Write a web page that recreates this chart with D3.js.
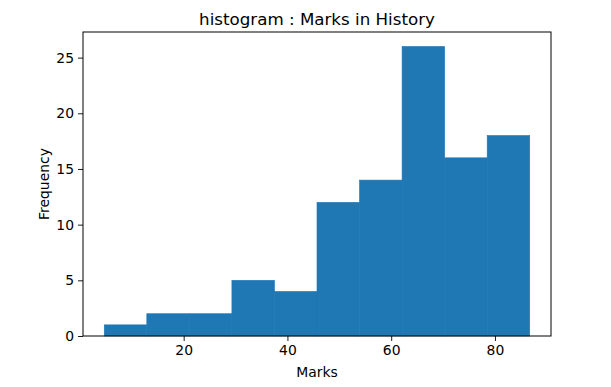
<!DOCTYPE html>
<html><head><meta charset="utf-8">
<script src="https://cdn.jsdelivr.net/npm/d3@7"></script>
<style>body{margin:0;background:#fff}svg{display:block}text{font-family:"DejaVu Sans",sans-serif;fill:#000}</style>
</head><body>
<script>
const binStart = 4.7;
const binWidth = 8.2;
const frequencies = [1, 2, 2, 5, 4, 12, 14, 26, 16, 18];
const xTicks = [20, 40, 60, 80];
const yTicks = [0, 5, 10, 15, 20, 25];
const title = "histogram : Marks in History";
const xLabel = "Marks";
const yLabel = "Frequency";

const W = 611, H = 387;
const m = {left: 83, right: 551, top: 32, bottom: 336};
const bins = frequencies.map((f, i) => ({x0: binStart + i*binWidth, x1: binStart + (i+1)*binWidth, n: f}));
const dMin = bins[0].x0, dMax = bins[bins.length-1].x1, pad = (dMax - dMin)*0.05;
const x = d3.scaleLinear().domain([dMin - pad, dMax + pad]).range([m.left, m.right]);
const y = d3.scaleLinear().domain([0, d3.max(frequencies)*1.05]).range([m.bottom, m.top]);

const svg = d3.select("body").append("svg").attr("width", W).attr("height", H);
svg.append("g").selectAll("rect").data(bins).join("rect")
  .attr("x", d => x(d.x0)).attr("width", d => x(d.x1) - x(d.x0))
  .attr("y", d => y(d.n)).attr("height", d => y(0) - y(d.n))
  .attr("fill", "#1f77b4").attr("stroke", "#1f77b4").attr("stroke-width", 0.6);

const xa = svg.append("g").attr("transform", `translate(0,${m.bottom})`)
  .call(d3.axisBottom(x).tickValues(xTicks).tickSize(5).tickPadding(4).tickSizeOuter(0));
const ya = svg.append("g").attr("transform", `translate(${m.left},0)`)
  .call(d3.axisLeft(y).tickValues(yTicks).tickSize(5).tickPadding(4).tickSizeOuter(0));
[xa, ya].forEach(a => {
  a.select(".domain").remove();
  a.selectAll("text").attr("font-size", 13.9).attr("font-family", "DejaVu Sans").attr("fill", "#000");
  a.selectAll("line").attr("stroke", "#000").attr("stroke-width", 0.9);
});
svg.append("rect").attr("x", m.left).attr("y", m.top)
  .attr("width", m.right - m.left).attr("height", m.bottom - m.top)
  .attr("fill", "none").attr("stroke", "#000").attr("stroke-width", 1);

svg.append("text").attr("x", (m.left+m.right)/2).attr("y", 24.5).attr("text-anchor", "middle")
  .attr("font-size", 16.7).text(title);
svg.append("text").attr("x", (m.left+m.right)/2).attr("y", 377).attr("text-anchor", "middle")
  .attr("font-size", 13.9).text(xLabel);
svg.append("text").attr("transform", `translate(49,${(m.top+m.bottom)/2}) rotate(-90)`)
  .attr("text-anchor", "middle").attr("font-size", 13.9).text(yLabel);
</script>
</body></html>
